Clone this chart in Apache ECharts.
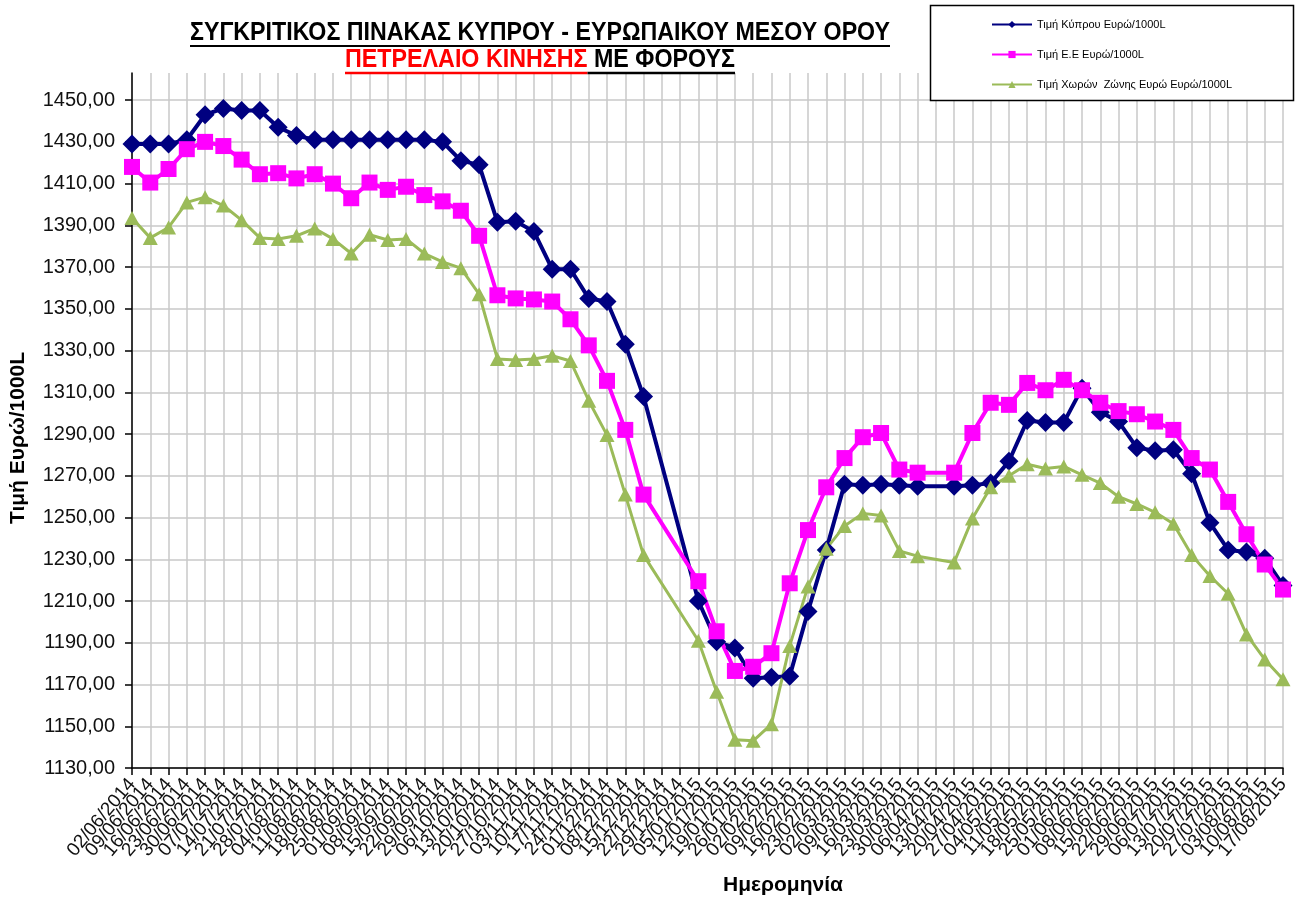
<!DOCTYPE html>
<html>
<head>
<meta charset="utf-8">
<script src="https://cdn.jsdelivr.net/npm/echarts@6/dist/echarts.min.js"></script>
<style>
  html, body { margin: 0; padding: 0; background: #fff; }
  #chart { width: 1298px; height: 897px; }
</style>
</head>
<body>
<div id="chart"></div>
<script>
// weekly dates (x axis categories)
var dates = [
  '02/06/2014', '09/06/2014', '16/06/2014', '23/06/2014', '30/06/2014',
  '07/07/2014', '14/07/2014', '21/07/2014', '28/07/2014',
  '04/08/2014', '11/08/2014', '18/08/2014', '25/08/2014',
  '01/09/2014', '08/09/2014', '15/09/2014', '22/09/2014', '29/09/2014',
  '06/10/2014', '13/10/2014', '20/10/2014', '27/10/2014',
  '03/11/2014', '10/11/2014', '17/11/2014', '24/11/2014',
  '01/12/2014', '08/12/2014', '15/12/2014', '22/12/2014', '29/12/2014',
  '05/01/2015', '12/01/2015', '19/01/2015', '26/01/2015',
  '02/02/2015', '09/02/2015', '16/02/2015', '23/02/2015',
  '02/03/2015', '09/03/2015', '16/03/2015', '23/03/2015', '30/03/2015',
  '06/04/2015', '13/04/2015', '20/04/2015', '27/04/2015',
  '04/05/2015', '11/05/2015', '18/05/2015', '25/05/2015',
  '01/06/2015', '08/06/2015', '15/06/2015', '22/06/2015', '29/06/2015',
  '06/07/2015', '13/07/2015', '20/07/2015', '27/07/2015',
  '03/08/2015', '10/08/2015', '17/08/2015'
];

// Τιμή Κύπρου Ευρώ/1000L
var cyprus = [
  1429, 1429, 1429, 1431, 1443, 1446, 1445, 1445, 1437, 1433,
  1431, 1431, 1431, 1431, 1431, 1431, 1431, 1430, 1421, 1419,
  1391.5, 1392, 1387, 1369, 1369, 1355, 1353.5, 1333, 1308, null,
  null, 1210, 1190.5, 1187.5, 1173, 1173.5, 1174, 1205, 1234.5, 1266,
  1265.5, 1266, 1265.5, 1265, null, 1265, 1265.5, 1266.5, 1277, 1296.5,
  1295.5, 1295.5, 1312, 1300.5, 1296, 1283.5, 1282, 1282.5, 1271, 1247.5,
  1234.5, 1233.5, 1230.5, 1217.5
];

// Τιμή Ε.Ε Ευρώ/1000L
var eu = [
  1418, 1410.5, 1417, 1426.5, 1430, 1428, 1421.5, 1414.5, 1415, 1412.5,
  1414.5, 1410, 1403, 1410.5, 1407, 1408.5, 1404.5, 1401.5, 1397, 1385,
  1356.5, 1355, 1354.5, 1353.5, 1345, 1332.5, 1315.5, 1292, 1261, null,
  null, 1219.5, 1195.5, 1176.5, 1178.5, 1185, 1218.5, 1244, 1264.5, 1278.5,
  1288.5, 1290.5, 1273, 1271.5, null, 1271.5, 1290.5, 1305, 1304, 1314.5,
  1311, 1316, 1311, 1305, 1301, 1299.5, 1296, 1292, 1278.5, 1273,
  1257.5, 1242, 1227.5, 1215.5
];

// Τιμή Χωρών Ζώνης Ευρώ
var euroZone = [
  1393.5, 1384, 1389, 1401, 1403.5, 1399.5, 1392.5, 1384, 1383.5, 1385,
  1388.5, 1383.5, 1376.5, 1385.5, 1383, 1383.5, 1376.5, 1372.5, 1369.5, 1357,
  1326, 1325.5, 1326, 1327.5, 1325, 1306, 1289.5, 1261, 1232, null,
  null, 1191, 1166.5, 1143.5, 1143, 1151, 1188.5, 1217, 1235, 1246,
  1252, 1251, 1234, 1231.5, null, 1228.5, 1249.5, 1264.5, 1270, 1275.5,
  1273.5, 1274.5, 1270.5, 1266.5, 1260, 1256.5, 1252.5, 1247, 1232, 1222,
  1213.5, 1194, 1182, 1172.5
];

var seriesNames = [
  'Τιμή Κύπρου Ευρώ/1000L',
  'Τιμή Ε.Ε Ευρώ/1000L',
  'Τιμή Χωρών  Ζώνης Ευρώ Ευρώ/1000L'
];

var titleLine1 = 'ΣΥΓΚΡΙΤΙΚΟΣ ΠΙΝΑΚΑΣ ΚΥΠΡΟΥ - ΕΥΡΩΠΑΙΚΟΥ ΜΕΣΟΥ ΟΡΟΥ';
var titleRed = 'ΠΕΤΡΕΛΑΙΟ ΚΙΝΗΣΗΣ';
var titleBlack = ' ΜΕ ΦΟΡΟΥΣ';

var FONT = '"Liberation Sans", Arial, sans-serif';
var TITLE_FONT = '"Liberation Sans Narrow", "Liberation Sans", Arial, sans-serif';

function textWidth(str, font) {
  var ctx = document.createElement('canvas').getContext('2d');
  ctx.font = font;
  return ctx.measureText(str).width;
}

var titleFont = 'bold 26px ' + TITLE_FONT;
// squeeze title lines to the width they take in the picture
var w1 = textWidth(titleLine1, titleFont);
var k1 = 700 / w1;
var wRed = textWidth(titleRed, titleFont);
var wBlack = textWidth(titleBlack, titleFont);
var k2 = 390 / (wRed + wBlack);
var line2x = 345;
var redEnd = line2x + wRed * k2;

var myChart = echarts.init(document.getElementById('chart'));

var option = {
  animation: false,
  backgroundColor: '#fff',
  grid: {
    left: 132,
    right: 15,
    top: 73,
    bottom: 129
  },
  legend: {
    orient: 'vertical',
    left: 986,
    top: 14,
    itemWidth: 40,
    itemHeight: 9,
    itemGap: 19,
    z: 20,
    textStyle: {
      color: '#000',
      fontSize: 11,
      fontFamily: FONT
    },
    data: seriesNames
  },
  xAxis: {
    type: 'category',
    boundaryGap: false,
    data: dates,
    axisLine: { lineStyle: { color: '#000', width: 1.5 } },
    axisTick: {
      interval: 0,
      length: 7,
      lineStyle: { color: '#000', width: 1.5 }
    },
    axisLabel: {
      interval: 0,
      rotate: 50,
      margin: 13,
      color: '#111',
      fontSize: 19,
      fontFamily: FONT
    },
    splitLine: {
      show: true,
      interval: 0,
      lineStyle: { color: '#c8c8c8', width: 1.5 }
    }
  },
  yAxis: {
    type: 'value',
    min: 1130,
    max: 1463,
    interval: 20,
    axisLine: { show: true, lineStyle: { color: '#000', width: 1.5 } },
    axisTick: { show: true, length: 7, lineStyle: { color: '#000', width: 1.5 } },
    axisLabel: {
      showMaxLabel: false,
      margin: 17,
      color: '#111',
      fontSize: 20,
      fontFamily: FONT,
      formatter: function (v) {
        return v.toFixed(2).replace('.', ',');
      }
    },
    splitLine: {
      showMaxLine: false,
      lineStyle: { color: '#c8c8c8', width: 1.5 }
    }
  },
  graphic: [
    {
      type: 'rect',
      z: 10,
      shape: { x: 930.5, y: 5.5, width: 363, height: 95 },
      style: { fill: '#fff', stroke: '#000', lineWidth: 1.5 }
    },
    {
      type: 'text',
      x: 540,
      y: 33,
      scaleX: k1,
      z: 10,
      style: {
        x: 0, y: 0,
        text: titleLine1,
        font: titleFont,
        fill: '#000',
        align: 'center',
        verticalAlign: 'middle'
      }
    },
    {
      type: 'line',
      z: 10,
      shape: { x1: 190, y1: 46, x2: 890, y2: 46 },
      style: { stroke: '#000', lineWidth: 2 }
    },
    {
      type: 'text',
      x: line2x,
      y: 60,
      scaleX: k2,
      z: 10,
      style: {
        x: 0, y: 0,
        text: titleRed,
        font: titleFont,
        fill: '#ff0000',
        align: 'left',
        verticalAlign: 'middle'
      }
    },
    {
      type: 'text',
      x: redEnd,
      y: 60,
      scaleX: k2,
      z: 10,
      style: {
        x: 0, y: 0,
        text: titleBlack,
        font: titleFont,
        fill: '#000',
        align: 'left',
        verticalAlign: 'middle'
      }
    },
    {
      type: 'line',
      z: 10,
      shape: { x1: line2x, y1: 73, x2: redEnd, y2: 73 },
      style: { stroke: '#ff0000', lineWidth: 2.5 }
    },
    {
      type: 'line',
      z: 10,
      shape: { x1: redEnd, y1: 73, x2: line2x + 390, y2: 73 },
      style: { stroke: '#000', lineWidth: 2.5 }
    },
    {
      type: 'text',
      x: 18,
      y: 438,
      rotation: Math.PI / 2,
      style: {
        text: 'Τιμή Ευρώ/1000L',
        font: 'bold 21px ' + FONT,
        fill: '#000',
        align: 'center',
        verticalAlign: 'middle'
      }
    },
    {
      type: 'text',
      x: 783,
      y: 885,
      style: {
        text: 'Ημερομηνία',
        font: 'bold 21px ' + FONT,
        fill: '#000',
        align: 'center',
        verticalAlign: 'middle'
      }
    }
  ],
  series: [
    {
      name: seriesNames[0],
      type: 'line',
      data: cyprus,
      connectNulls: true,
      symbol: 'diamond',
      symbolSize: 19,
      showAllSymbol: true,
      itemStyle: { color: '#000080' },
      lineStyle: { color: '#000080', width: 4 }
    },
    {
      name: seriesNames[1],
      type: 'line',
      data: eu,
      connectNulls: true,
      symbol: 'rect',
      symbolSize: 16,
      showAllSymbol: true,
      itemStyle: { color: '#ff00ff' },
      lineStyle: { color: '#ff00ff', width: 4 }
    },
    {
      name: seriesNames[2],
      type: 'line',
      data: euroZone,
      connectNulls: true,
      symbol: 'triangle',
      symbolSize: [15, 14],
      showAllSymbol: true,
      itemStyle: { color: '#9bbb59' },
      lineStyle: { color: '#9bbb59', width: 3 }
    }
  ]
};

myChart.setOption(option);
</script>
</body>
</html>
